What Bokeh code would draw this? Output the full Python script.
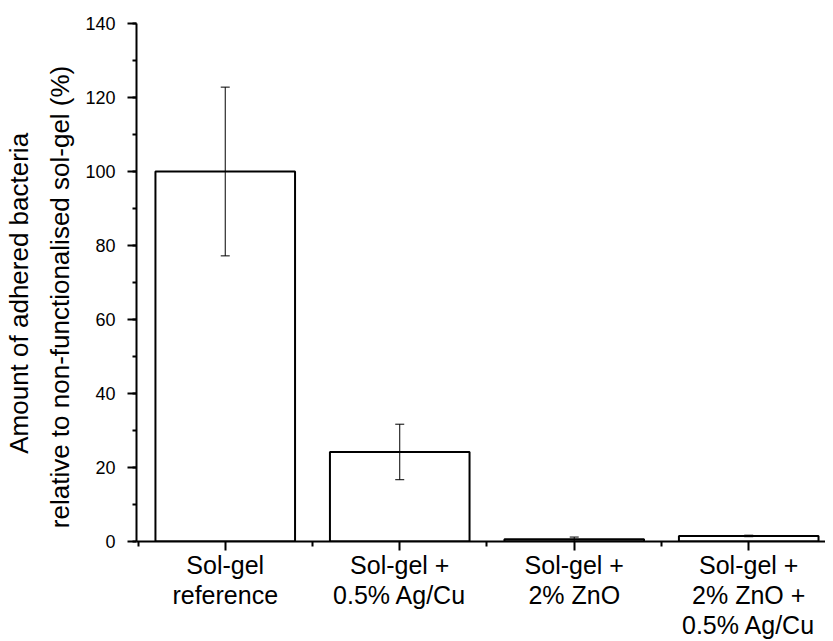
from bokeh.plotting import figure
from bokeh.models import ColumnDataSource, Whisker, TeeHead, FixedTicker, Range1d, Title
from bokeh.embed import file_html
from bokeh.resources import INLINE

categories = ["Sol-gel\nreference", "Sol-gel +\n0.5% Ag/Cu", "Sol-gel +\n2% ZnO", "Sol-gel +\n2% ZnO +\n0.5% Ag/Cu"]
values = [100.0, 24.2, 0.6, 1.5]
errors = [22.8, 7.5, 0.6, 0.2]
y_ticks = [0, 20, 40, 60, 80, 100, 120, 140]
y_title_lines = ["Amount of adhered bacteria", "relative to non-functionalised sol-gel (%)"]

xs = [i + 0.5 for i in range(len(categories))]
src = ColumnDataSource(dict(
    x=xs, top=values,
    upper=[v + e for v, e in zip(values, errors)],
    lower=[v - e for v, e in zip(values, errors)],
))

FONT = "Liberation Sans"
NBSP = "\u00a0"

p = figure(width=825, height=641, output_backend="svg", toolbar_location=None,
           x_range=Range1d(-0.0086, 3.94), y_range=Range1d(0, 140),
           min_border_left=134, min_border_top=23, min_border_bottom=100, min_border_right=0)
p.outline_line_color = None
p.xgrid.visible = False
p.ygrid.visible = False

p.vbar(x="x", top="top", bottom=0, width=0.8, source=src,
       fill_color="white", line_color="black", line_width=2)

w = Whisker(base="x", upper="upper", lower="lower", source=src, level="overlay",
            line_color="black", line_width=1,
            upper_head=TeeHead(size=9, line_color="black", line_width=1),
            lower_head=TeeHead(size=9, line_color="black", line_width=1))
p.add_layout(w)

# x axis
xa = p.xaxis[0]
xa.ticker = FixedTicker(ticks=xs, minor_ticks=[0, 1, 2, 3, 4])
xa.major_label_overrides = {x: c for x, c in zip(xs, categories)}
xa.axis_line_width = 2
xa.axis_line_color = "black"
xa.major_tick_line_width = 2
xa.minor_tick_line_width = 2
xa.major_tick_out = 9
xa.major_tick_in = 0
xa.minor_tick_out = 5
xa.minor_tick_in = 0
xa.major_label_text_font = FONT
xa.major_label_text_font_size = "25px"
xa.major_label_text_color = "black"
xa.major_label_standoff = 0
xa.major_label_text_line_height = 1.08

# y axis
ya = p.yaxis[0]
ya.ticker = FixedTicker(ticks=y_ticks, minor_ticks=list(range(0, 141, 10)))
ya.axis_line_width = 2
ya.axis_line_color = "black"
ya.major_tick_line_width = 2
ya.minor_tick_line_width = 2
ya.major_tick_out = 9
ya.major_tick_in = 0
ya.minor_tick_out = 4
ya.minor_tick_in = 0
ya.major_label_text_font = FONT
ya.major_label_text_font_size = "18px"
ya.major_label_text_color = "black"
ya.major_label_standoff = 12

# y title: inner line first (closest to the axis), then outer line;
# trailing no-break spaces nudge each centred line slightly downward
for line, so, pad in [(y_title_lines[1], 16, 4), (y_title_lines[0], 2, 3)]:
    t = Title(text=line + NBSP * pad, align="center", standoff=so,
              text_font=FONT, text_font_size="26px", text_font_style="normal",
              text_color="black")
    p.add_layout(t, "left")

open("out.html", "w").write(file_html(p, INLINE))
